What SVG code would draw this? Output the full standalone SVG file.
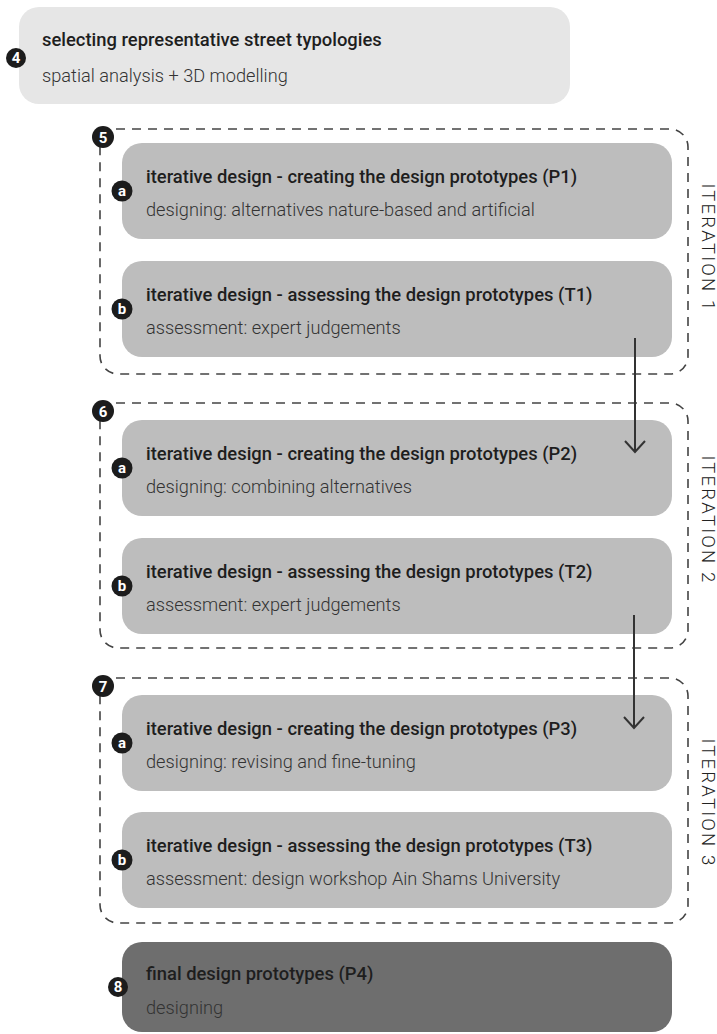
<svg xmlns="http://www.w3.org/2000/svg" width="717" height="1034" viewBox="0 0 717 1034">
<defs>
<style>
.t{font-family:Roboto,"Liberation Sans",sans-serif;font-size:18.4px;font-weight:500;fill:#1e1e1e}
.s{font-family:Roboto,"Liberation Sans",sans-serif;font-size:18.2px;font-weight:300;fill:#333}
.n1{fill:#e6e6e6}
.n2{fill:#bdbdbd}
.n3{fill:#6e6e6e}
.dash{fill:none;stroke:#444;stroke-width:1.6;stroke-dasharray:9 7}
.badge{fill:#1c1c1c}
.bt{font-family:Roboto,"Liberation Sans",sans-serif;font-size:15px;font-weight:700;fill:#fff;text-anchor:middle}
.it{font-family:Roboto,"Liberation Sans",sans-serif;font-size:18.5px;font-weight:300;fill:#222;letter-spacing:2.2px;text-anchor:middle}
.conn{fill:none;stroke:#333;stroke-width:2}
</style>
<marker id="v" viewBox="0 0 20 22" refX="18" refY="11" markerWidth="20" markerHeight="22" markerUnits="userSpaceOnUse" orient="auto">
<path d="M7 1 L18 11 L7 21" fill="none" stroke="#333" stroke-width="2"/>
</marker>
</defs>

<g id="step4">
<rect class="n1" x="19" y="7" width="551" height="97" rx="20"/>
<circle class="badge" cx="16" cy="58" r="10"/>
<text class="bt" x="16" y="63">4</text>
<text class="t" x="42" y="46">selecting representative street typologies</text>
<text class="s" x="42" y="82">spatial analysis + 3D modelling</text>
</g>

<g id="iteration1">
<path class="dash" d="M100 129 H670 A18 18 0 0 1 688 147 V356 A18 18 0 0 1 670 374 H118 A18 18 0 0 1 100 356 Z"/>
<circle class="badge" cx="103" cy="137" r="11"/>
<text class="bt" x="103" y="142.5">5</text>
<text class="it" transform="translate(702 248) rotate(90)">ITERATION 1</text>
</g>
<g id="p1">
<rect class="n2" x="122" y="143" width="550" height="96" rx="20"/>
<circle class="badge" cx="122" cy="191" r="10.5"/>
<text class="bt" x="122" y="196">a</text>
<text class="t" x="146" y="183">iterative design - creating the design prototypes (P1)</text>
<text class="s" x="146" y="216">designing: alternatives nature-based and artificial</text>
</g>
<g id="t1">
<rect class="n2" x="122" y="261" width="550" height="96" rx="20"/>
<circle class="badge" cx="122" cy="309" r="10.5"/>
<text class="bt" x="122" y="314">b</text>
<text class="t" x="146" y="301">iterative design - assessing the design prototypes (T1)</text>
<text class="s" x="146" y="334">assessment: expert judgements</text>
</g>

<g id="iteration2">
<path class="dash" d="M100 403 H670 A18 18 0 0 1 688 421 V630 A18 18 0 0 1 670 648 H118 A18 18 0 0 1 100 630 Z"/>
<circle class="badge" cx="103" cy="411" r="11"/>
<text class="bt" x="103" y="416.5">6</text>
<text class="it" transform="translate(702 520) rotate(90)">ITERATION 2</text>
</g>
<g id="p2">
<rect class="n2" x="122" y="420" width="550" height="96" rx="20"/>
<circle class="badge" cx="122" cy="468" r="10.5"/>
<text class="bt" x="122" y="473">a</text>
<text class="t" x="146" y="460">iterative design - creating the design prototypes (P2)</text>
<text class="s" x="146" y="493">designing: combining alternatives</text>
</g>
<g id="t2">
<rect class="n2" x="122" y="538" width="550" height="96" rx="20"/>
<circle class="badge" cx="122" cy="586" r="10.5"/>
<text class="bt" x="122" y="591">b</text>
<text class="t" x="146" y="578">iterative design - assessing the design prototypes (T2)</text>
<text class="s" x="146" y="611">assessment: expert judgements</text>
</g>

<g id="iteration3">
<path class="dash" d="M100 678 H670 A18 18 0 0 1 688 696 V905 A18 18 0 0 1 670 923 H118 A18 18 0 0 1 100 905 Z"/>
<circle class="badge" cx="103" cy="686" r="11"/>
<text class="bt" x="103" y="691.5">7</text>
<text class="it" transform="translate(702 803) rotate(90)">ITERATION 3</text>
</g>
<g id="p3">
<rect class="n2" x="122" y="695" width="550" height="96" rx="20"/>
<circle class="badge" cx="122" cy="743" r="10.5"/>
<text class="bt" x="122" y="748">a</text>
<text class="t" x="146" y="735">iterative design - creating the design prototypes (P3)</text>
<text class="s" x="146" y="768">designing: revising and fine-tuning</text>
</g>
<g id="t3">
<rect class="n2" x="122" y="812" width="550" height="96" rx="20"/>
<circle class="badge" cx="122" cy="860" r="10.5"/>
<text class="bt" x="122" y="865">b</text>
<text class="t" x="146" y="852">iterative design - assessing the design prototypes (T3)</text>
<text class="s" x="146" y="885">assessment: design workshop Ain Shams University</text>
</g>

<g id="step8">
<rect class="n3" x="122" y="942" width="550" height="90" rx="20"/>
<circle class="badge" cx="118" cy="987" r="10"/>
<text class="bt" x="118" y="992">8</text>
<text class="t" x="146" y="980">final design prototypes (P4)</text>
<text class="s" x="146" y="1014">designing</text>
</g>

<g id="connectors">
<line class="conn" x1="635" y1="338" x2="635" y2="452" marker-end="url(#v)"/>
<line class="conn" x1="634" y1="615" x2="634" y2="728" marker-end="url(#v)"/>
</g>
</svg>
